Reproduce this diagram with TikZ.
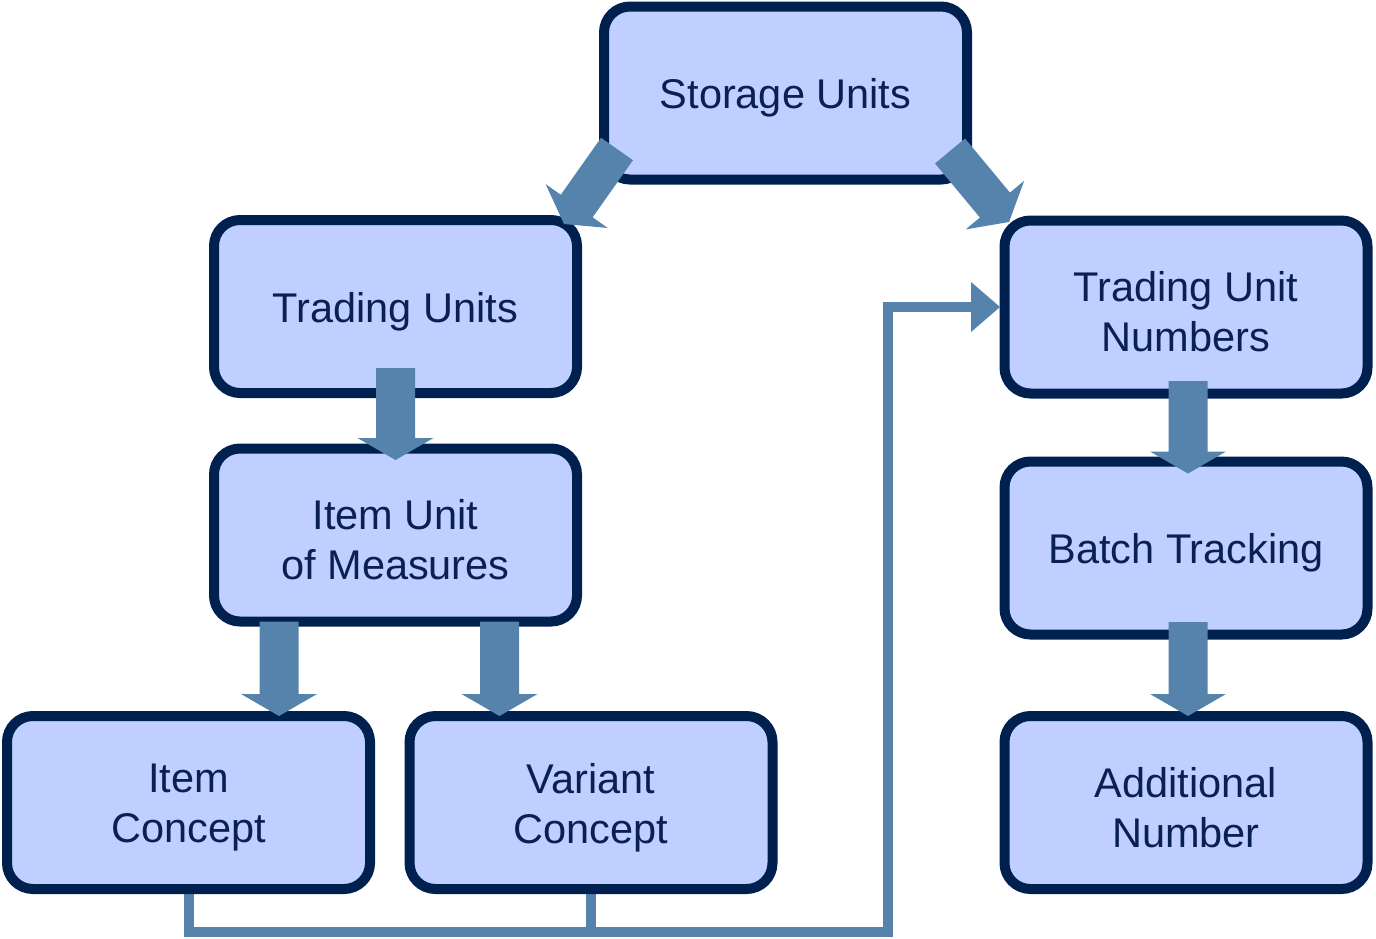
\documentclass[tikz,border=0pt]{standalone}
\usepackage{fontspec}
\setmainfont{Liberation Sans}
\usetikzlibrary{calc}
\definecolor{boxfill}{HTML}{BFCFFF}
\definecolor{boxline}{HTML}{002050}
\definecolor{arrowc}{HTML}{5683AB}
\definecolor{txt}{HTML}{0A2050}
\pgfdeclarelayer{background}
\pgfsetlayers{background,main}
\newcommand\blockarr[2]{%
  \coordinate (bh) at ($(#2)!11pt!(#1)$);
  \fill[arrowc] ($(#1)!9.75pt!90:(#2)$) -- ($(bh)!9.75pt!90:(#2)$) -- ($(bh)!19pt!90:(#2)$) -- (#2) -- ($(bh)!19pt!-90:(#2)$) -- ($(bh)!9.75pt!-90:(#2)$) -- ($(#1)!9.75pt!-90:(#2)$) -- cycle;}
\begin{document}
\begin{tikzpicture}[x=0.5pt,y=-0.5pt,
  box/.style={draw=boxline, fill=boxfill, line width=5pt, rounded corners=13pt,
    minimum width=181.5pt, minimum height=86.5pt, outer sep=0pt, inner sep=0pt},
  boxtext/.style={align=center, text=txt, font=\fontsize{20.75}{25}\selectfont,
    inner sep=0pt, yshift=-2.5pt},
  conn/.style={draw=arrowc, line width=5pt}]
\useasboundingbox (0,0) rectangle (1376,938);
\node[box, label={[boxtext]center:Storage Units}] (su) at (785.5,93) {};
\node[box, label={[boxtext]center:Trading Units}] (tu) at (395.5,306.5) {};
\node[box, label={[boxtext]center:Item Unit\\of Measures}] (iu) at (395.5,535) {};
\node[box, label={[boxtext]center:Item\\Concept}] (ic) at (188.5,802.5) {};
\node[box, label={[boxtext]center:Variant\\Concept}] (vc) at (591,802.5) {};
\node[box, label={[boxtext]center:Trading Unit\\Numbers}] (tun) at (1186,307) {};
\node[box, label={[boxtext]center:Batch Tracking}] (bt) at (1186,548) {};
\node[box, label={[boxtext]center:Additional\\Number}] (an) at (1186,802.5) {};
% connector
\coordinate (jx) at (888,932);
\coordinate (hb) at ($(tun.west)+(-33.5,0)$);
\coordinate (ht) at ($(tun.west)+(-4.5,0)$);
\begin{pgfonlayer}{background}
\draw[conn] (ic.south) |- (jx) |- (hb);
\draw[conn] (vc.south) -- (vc.south |- jx);
\end{pgfonlayer}
\fill[arrowc] ($(hb)+(0,-25)$) -- (ht) -- ($(hb)+(0,25)$) -- cycle;
% block arrows
\coordinate (a1s) at ($(su.south west)+(13,-30.5)$);
\coordinate (a1t) at ($(tu.north east)+(-13,4)$);
\blockarr{a1s}{a1t}
\coordinate (a2s) at ($(su.south east)+(-17,-28.5)$);
\coordinate (a2t) at ($(tun.north west)+(4.5,1.5)$);
\blockarr{a2s}{a2t}
\coordinate (a3s) at ($(tu.south)+(0,-25)$);
\coordinate (a3t) at ($(iu.north)+(0,11.5)$);
\blockarr{a3s}{a3t}
\coordinate (a4s) at ($(iu.south)+(-116.5,0)$);
\coordinate (a4t) at (a4s |- ic.north);
\blockarr{a4s}{a4t}
\coordinate (a5s) at ($(iu.south)+(104,0)$);
\coordinate (a5t) at (a5s |- vc.north);
\blockarr{a5s}{a5t}
\coordinate (a6s) at ($(tun.south)+(2,-12.5)$);
\coordinate (a6t) at ($(bt.north)+(2,12)$);
\blockarr{a6s}{a6t}
\coordinate (a7s) at ($(bt.south)+(2,-12.5)$);
\coordinate (a7t) at (a7s |- an.north);
\blockarr{a7s}{a7t}
\end{tikzpicture}
\end{document}
